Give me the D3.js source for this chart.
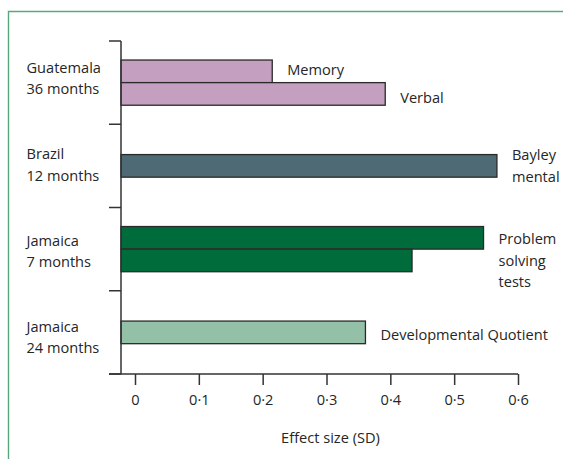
<!DOCTYPE html>
<html><head><meta charset="utf-8">
<script src="https://cdn.jsdelivr.net/npm/d3@7"></script>
<style>
html,body{margin:0;padding:0;background:#fff;}
svg{display:block;font-family:"Open Sans",sans-serif;}
</style></head>
<body><svg id="chart" width="563" height="459"></svg>
<script>
// ---- data ----
const groups = ["Guatemala 36 months", "Brazil 12 months", "Jamaica 7 months", "Jamaica 24 months"];
const groupLines = [["Guatemala", "36 months"], ["Brazil", "12 months"], ["Jamaica", "7 months"], ["Jamaica", "24 months"]];
const measures = ["Memory", "Verbal", "Bayley mental", "Problem solving tests 1", "Problem solving tests 2", "Developmental Quotient"];
const measureGroup = [0, 0, 1, 2, 2, 3];
const effectSize = [0.215, 0.392, 0.567, 0.546, 0.434, 0.361];
const measureLabels = [["Memory"], ["Verbal"], ["Bayley", "mental"], ["Problem", "solving", "tests"], [], ["Developmental Quotient"]];
const groupColors = ["#c59fc0", "#4e6a74", "#006b3b", "#94c0a8"];
const xTicks = [0, 0.1, 0.2, 0.3, 0.4, 0.5, 0.6];
const xTickLabels = ["0", "0·1", "0·2", "0·3", "0·4", "0·5", "0·6"];
const xTitle = "Effect size (SD)";

// ---- layout ----
const svg = d3.select("#chart");
const axisX = 121, plotTop = 41, plotBottom = 374, axisLeft = 109;
const x = d3.scaleLinear().domain([0, 0.6]).range([135, 518]);
const y = d3.scaleBand().domain(groups).range([plotTop, plotBottom]).paddingInner(0).paddingOuter(0);
const yLab = d3.scaleBand().domain(groups).range([35.3, 380.5]);
const barH = 22.6;
const fs = 14.6, lh = 21.5;
const textCol = "#262626";

// frame
svg.append("path").attr("d", "M8.5,459 V11.5 H563")
  .attr("fill", "none").attr("stroke", "#5ba77c").attr("stroke-width", 1.4);

// bars
const bars = measures.map((m, i) => {
  const g = measureGroup[i];
  const members = measures.map((_, j) => j).filter(j => measureGroup[j] === g);
  const k = members.indexOf(i);
  const c = y(groups[g]) + y.bandwidth() / 2;
  const y0 = c - members.length * barH / 2 + k * barH;
  return {i, g, k, n: members.length, members, y0, v: effectSize[i]};
});

svg.append("g").selectAll("rect").data(bars).join("rect")
  .attr("x", axisX)
  .attr("y", d => d.y0)
  .attr("width", d => x(d.v) - axisX)
  .attr("height", barH)
  .attr("fill", d => groupColors[d.g])
  .attr("stroke", "#2a2a2a").attr("stroke-width", 1.3);

// bar labels
bars.forEach(d => {
  const lines = measureLabels[d.i];
  if (!lines.length) return;
  let lx = x(d.v) + 15, cy = d.y0 + barH / 2;
  if (lines.length > 2) {
    lx = x(d3.max(d.members, j => effectSize[j])) + 15;
    const last = bars[d.members[d.members.length - 1]];
    cy = last.y0 + barH / 2;
  }
  if (d.n > 1 && lines.length === 1) cy += (d.k === 0 ? -1.5 : 3.5);
  if (d.n === 1 && lines.length === 1) cy += 2.5;
  const t = svg.append("text").attr("x", lx).attr("font-size", fs).attr("fill", textCol);
  lines.forEach((s, li) => {
    t.append("tspan").attr("x", lx)
      .attr("y", cy + 5.2 + (li - (lines.length - 1) / 2) * lh).text(s);
  });
});

// y axis
svg.append("line").attr("x1", axisX).attr("x2", axisX).attr("y1", plotTop).attr("y2", plotBottom)
  .attr("stroke", "#333").attr("stroke-width", 1.5);
const yEdges = groups.map(g => y(g)).concat([plotBottom]);
svg.append("g").selectAll("line").data(yEdges).join("line")
  .attr("x1", axisLeft).attr("x2", axisX).attr("y1", d => d).attr("y2", d => d)
  .attr("stroke", "#333").attr("stroke-width", 1.5);

// group labels
groups.forEach((g, gi) => {
  const c = yLab(g) + yLab.bandwidth() / 2;
  const t = svg.append("text").attr("font-size", fs).attr("fill", textCol);
  groupLines[gi].forEach((s, li) => {
    t.append("tspan").attr("x", 26.5).attr("y", c + 5.2 + (li - 0.5) * lh).text(s);
  });
});

// x axis
const xAxis = d3.axisBottom(x).tickValues(xTicks)
  .tickFormat((d, i) => xTickLabels[i]).tickSize(11).tickPadding(10).tickSizeOuter(0);
const gx = svg.append("g").attr("transform", `translate(0,${plotBottom})`).call(xAxis);
gx.select(".domain").remove();
gx.selectAll(".tick line").attr("stroke", "#333").attr("stroke-width", 1.5);
gx.selectAll(".tick text").attr("font-size", fs).attr("font-family", "'Open Sans', sans-serif").attr("fill", textCol);
svg.append("line").attr("x1", axisLeft).attr("x2", x(0.6)).attr("y1", plotBottom).attr("y2", plotBottom)
  .attr("stroke", "#333").attr("stroke-width", 1.5);

svg.append("text").attr("x", x(0.3) + 4).attr("y", 443).attr("text-anchor", "middle")
  .attr("font-size", fs).attr("fill", textCol).text(xTitle);
</script></body></html>
